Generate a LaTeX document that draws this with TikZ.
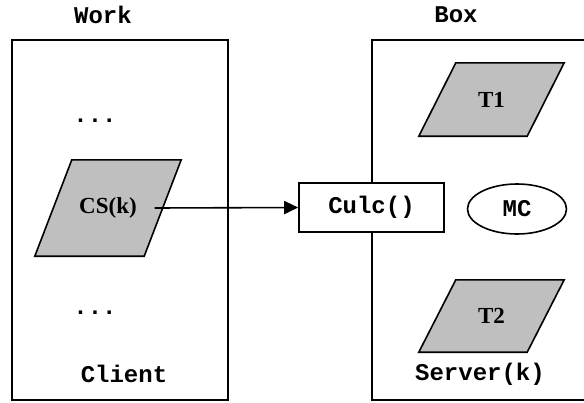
\documentclass[tikz,border=0pt]{standalone}
\usepackage{fontspec}
\setmainfont{Liberation Serif}
\setmonofont{Liberation Mono}
\usetikzlibrary{shapes.geometric, positioning, arrows.meta, backgrounds}

% slanted box behind a named node: #1 node, #2 half of the slant
\newcommand{\slantbox}[2]{%
	\filldraw[line width=1.6pt, fill=black!25] ([xshift=#2]#1.north west) -- ([xshift=#2]#1.north east) -- ([xshift=-#2]#1.south east) -- ([xshift=-#2]#1.south west) -- cycle;}

\begin{document}
\begin{tikzpicture}[x=1pt,y=-1pt,>={Triangle[length=14pt,width=13pt]},
	task/.style={inner sep=0pt, font=\fontsize{23}{26}\selectfont\bfseries},
	code/.style={font=\fontsize{24}{27}\selectfont\ttfamily\bfseries, inner sep=0pt},
	frame/.style={draw, line width=1.6pt}]
	\useasboundingbox (0,0) rectangle (584,402);

	% the two frames, the right one runs off the page
	\begin{scope}
		\clip (0,0) rectangle (584,402);
		\draw[frame] (12,40) rectangle (228,400);
		\draw[frame] (372,40) rectangle (640,400);
	\end{scope}

	\node[code] (WORK)		at (103,15)		{Work};
	\node[code] (BOX)		at (456,15)		{Box};
	\node[code] (DOTS_TOP)	at (95,121)		{...};
	\node[code] (DOTS_BOT)	at (95,313)		{...};
	\node[code] (CLIENT)	at (124,374)	{Client};
	\node[code] (SERVER)	at (480,374)	{Server(k)};

	\node[task, minimum width=109, minimum height=96] (CS) at (108,208) {CS(k)};
	\node[task, minimum width=108, minimum height=73] (T1) at (491.5,99.5) {T1};
	\node[task, minimum width=108, minimum height=72] (T2) at (491.5,316) {T2};

	\begin{scope}[on background layer]
		\slantbox{CS}{18.5pt}
		\slantbox{T1}{18.5pt}
		\slantbox{T2}{18.5pt}
	\end{scope}

	\node[code, frame, fill=white, minimum width=145, minimum height=49] (CULC) at (371.5,207.5) {Culc()};
	\node[code, frame, ellipse, minimum width=99, minimum height=50] (MC) at (517,209) {MC};

	\draw[->, line width=1.6pt] ([xshift=-8pt]CS.east) -- (CULC.west);
\end{tikzpicture}
\end{document}
